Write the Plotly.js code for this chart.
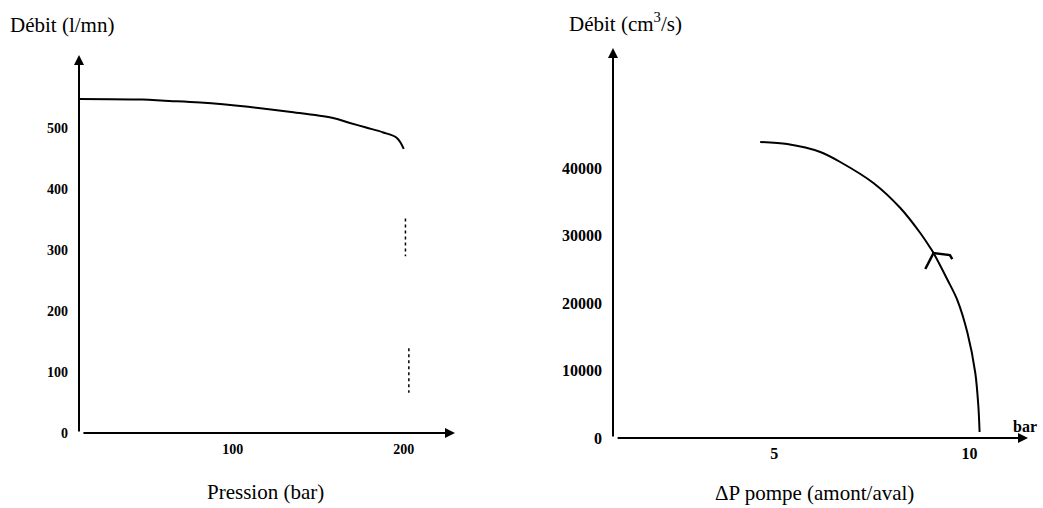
<!DOCTYPE html>
<html>
<head>
<meta charset="utf-8">
<script src="https://cdn.plot.ly/plotly-3.0.1.min.js"></script>
<style>html,body{margin:0;padding:0;background:#fff;}#chart{width:1043px;height:508px;}</style>
</head>
<body>
<div id="chart"></div>
<script>
// ---- Left chart: débit vs pression ----
const pression = [10, 47, 60, 81, 109, 133, 158, 168, 178, 188, 196, 200];
const debitLmn = [548, 547, 545, 542, 535, 527, 517, 509, 501, 493, 484, 466];
const dotsHautX = [201, 201];
const dotsHautY = [352, 290];
const dotsBasX = [203, 203];
const dotsBasY = [139, 66];
const leftXTicks = [100, 200];
const leftYTicks = [0, 100, 200, 300, 400, 500];
const leftXRange = [10, 230];
const leftYRange = [0, 620];

// ---- Right chart: débit vs ΔP pompe ----
const deltaP = [4.64, 5.33, 6.18, 6.69, 7.54, 8.23, 8.74, 9.0, 9.08, 9.44, 9.69, 9.95, 10.15, 10.23, 10.26];
const debitCm3s = [43850, 43550, 42370, 40890, 37780, 34070, 30370, 28150, 27410, 23410, 20440, 15560, 9630, 4590, 890];
const flecheX = [8.87, 9.08, 9.5, 9.56];
const flecheY = [25040, 27410, 27100, 26500];
const rightXTicks = [5, 10];
const rightYTicks = [0, 10000, 20000, 30000, 40000];
const rightXRange = [0.87, 11.5];
const rightYRange = [0, 57780];

const W = 1043, H = 508;
const px = v => v / W, py = v => 1 - v / H;
const serif = 'Liberation Serif';
const black = '#000';

const traces = [
  {x: pression, y: debitLmn, xaxis: 'x', yaxis: 'y', mode: 'lines',
   line: {color: black, width: 2, shape: 'spline', smoothing: 1}, cliponaxis: false, hoverinfo: 'skip'},
  {x: dotsHautX, y: dotsHautY, xaxis: 'x', yaxis: 'y', mode: 'lines',
   line: {color: black, width: 1.5, dash: 'dot'}, cliponaxis: false, hoverinfo: 'skip'},
  {x: dotsBasX, y: dotsBasY, xaxis: 'x', yaxis: 'y', mode: 'lines',
   line: {color: black, width: 1.5, dash: 'dot'}, cliponaxis: false, hoverinfo: 'skip'},
  {x: deltaP, y: debitCm3s, xaxis: 'x2', yaxis: 'y2', mode: 'lines',
   line: {color: black, width: 2, shape: 'spline', smoothing: 0.8}, cliponaxis: false, hoverinfo: 'skip'},
  {x: flecheX, y: flecheY, xaxis: 'x2', yaxis: 'y2', mode: 'lines',
   line: {color: black, width: 2.5}, cliponaxis: false, hoverinfo: 'skip'}
];

const tickFontL = {family: serif, size: 14, color: black, weight: 'bold'};
const tickFontR = {family: serif, size: 16, color: black, weight: 'bold'};
const titleFont = {family: serif, size: 21, color: black};

function axisArrow(xref, yref, x, y, ax, ay) {
  return {xref: xref, yref: yref, axref: xref, ayref: yref, x: x, y: y, ax: ax, ay: ay,
    text: '', showarrow: true, arrowhead: 2, arrowsize: 1, arrowwidth: 2, arrowcolor: black};
}

const layout = {
  width: W, height: H,
  margin: {l: 0, r: 0, t: 0, b: 0},
  paper_bgcolor: '#fff', plot_bgcolor: '#fff',
  showlegend: false,
  font: {family: serif, color: black},
  xaxis: {domain: [px(79), px(455)], range: leftXRange, anchor: 'y',
    showgrid: false, zeroline: false, showline: false, ticks: '',
    tickvals: leftXTicks, ticktext: leftXTicks.map(String), tickfont: tickFontL, ticklabelstandoff: 6},
  yaxis: {domain: [py(433), py(55)], range: leftYRange, anchor: 'x',
    showgrid: false, zeroline: false, showline: false, ticks: '',
    tickvals: leftYTicks, ticktext: leftYTicks.map(String), tickfont: tickFontL, ticklabelstandoff: 10},
  xaxis2: {domain: [px(613), px(1028)], range: rightXRange, anchor: 'y2',
    showgrid: false, zeroline: false, showline: false, ticks: '',
    tickvals: rightXTicks, ticktext: rightXTicks.map(String), tickfont: tickFontR, ticklabelstandoff: 4},
  yaxis2: {domain: [py(438), py(48)], range: rightYRange, anchor: 'x2',
    showgrid: false, zeroline: false, showline: false, ticks: '',
    tickvals: rightYTicks, ticktext: rightYTicks.map(String), tickfont: tickFontR, ticklabelstandoff: 10},
  annotations: [
    axisArrow('x', 'y', leftXRange[0], leftYRange[1], leftXRange[0], leftYRange[0]),
    axisArrow('x', 'y', leftXRange[1], leftYRange[0], leftXRange[0] + 1.7, leftYRange[0]),
    axisArrow('x2', 'y2', rightXRange[0], rightYRange[1], rightXRange[0], rightYRange[0]),
    axisArrow('x2', 'y2', rightXRange[1], rightYRange[0], rightXRange[0] + 0.08, rightYRange[0]),
    {xref: 'paper', yref: 'paper', x: px(8), y: py(25), xanchor: 'left', yanchor: 'middle',
     text: 'Débit (l/mn)', showarrow: false, font: titleFont},
    {xref: 'paper', yref: 'paper', x: px(567), y: py(22), xanchor: 'left', yanchor: 'middle',
     text: 'Débit (cm<sup>3</sup>/s)', showarrow: false, font: titleFont},
    {xref: 'paper', yref: 'paper', x: px(265), y: py(492), xanchor: 'center', yanchor: 'middle',
     text: 'Pression (bar)', showarrow: false, font: titleFont},
    {xref: 'paper', yref: 'paper', x: px(814), y: py(493), xanchor: 'center', yanchor: 'middle',
     text: 'ΔP pompe (amont/aval)', showarrow: false, font: titleFont},
    {xref: 'paper', yref: 'paper', x: px(1025), y: py(426), xanchor: 'center', yanchor: 'middle',
     text: 'bar', showarrow: false, font: {family: serif, size: 16, color: black, weight: 'bold'}}
  ]
};

Plotly.newPlot('chart', traces, layout, {staticPlot: true, displayModeBar: false});
</script>
</body>
</html>
